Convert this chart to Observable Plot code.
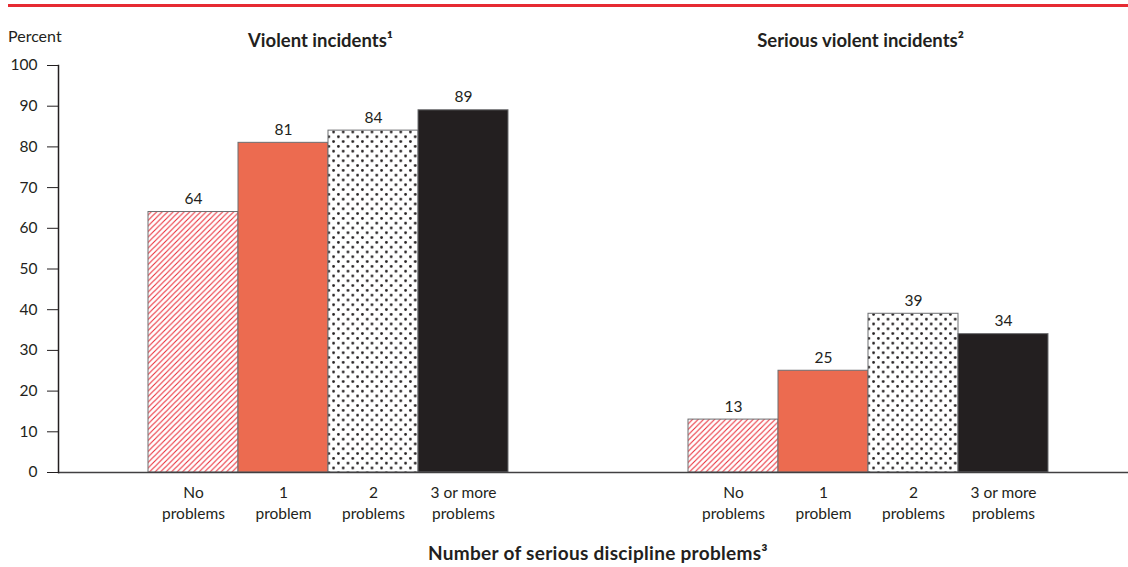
<!DOCTYPE html>
<html>
<head>
<meta charset="utf-8">
<script src="https://cdn.jsdelivr.net/npm/d3@7"></script>
<script src="https://cdn.jsdelivr.net/npm/@observablehq/plot@0.6"></script>
<style>
  html, body { margin: 0; padding: 0; background: #fff; }
  #wrap { position: relative; width: 1128px; height: 567px; font-family: Lato, sans-serif; color: #231f20; }
  #rule { position: absolute; top: 4px; left: 8px; right: 0; height: 3px; background: #e62a32; }
  #ylabel { position: absolute; left: 8px; top: 27px; font-size: 16px; line-height: 18px; }
  #caption { position: absolute; left: 58px; width: 1080px; top: 543px; text-align: center; font-size: 19px; font-weight: bold; letter-spacing: 0.3px; line-height: 20px; }
  #chart { position: absolute; left: 0; top: 0; }
</style>
</head>
<body>
<div id="wrap">
  <div id="rule"></div>
  <div id="chart"></div>
  <div id="ylabel">Percent</div>
  <div id="caption">Number of serious discipline problems³</div>
</div>
<script>
// Share of schools reporting incidents, by number of serious discipline problems
const panels = ["Violent incidents¹", "Serious violent incidents²"];
const categories = ["No\nproblems", "1\nproblem", "2\nproblems", "3 or more\nproblems"];
const violent = [64, 81, 84, 89];
const seriousViolent = [13, 25, 39, 34];
const yTicks = [0, 10, 20, 30, 40, 50, 60, 70, 80, 90, 100];

const rows = [
  ...categories.map((category, i) => ({panel: panels[0], category, value: violent[i]})),
  ...categories.map((category, i) => ({panel: panels[1], category, value: seriousViolent[i]}))
];

const ink = "#231f20";
const hatchRed = "#ea2d38";

const chart = Plot.plot({
  width: 1128,
  height: 540,
  marginTop: 65,
  marginBottom: 68,
  marginLeft: 58,
  marginRight: 0,
  style: {fontFamily: "Lato, sans-serif", fontSize: "15px", color: ink, background: "transparent"},
  fx: {domain: panels, paddingInner: 10 / 540, paddingOuter: 0, round: false, label: null},
  x: {domain: categories, paddingInner: 0, paddingOuter: 170 / 180, align: 90 / 170, round: false, label: null},
  y: {domain: [0, 100], label: null},
  color: {domain: categories, range: ["url(#hatch)", "#ec6b50", "url(#dots)", ink]},
  marks: [
    Plot.barY(rows, {fx: "panel", x: "category", y: "value", fill: "category", stroke: "#6d6e71", strokeWidth: 1}),
    Plot.text(rows, {fx: "panel", x: "category", y: "value", text: d => String(d.value), dy: -8, lineAnchor: "bottom", fontSize: 15.5, fill: ink}),
    Plot.ruleY([0], {stroke: "#414042", strokeWidth: 1.5, insetRight: -10}),
    Plot.frame({anchor: "left", facetAnchor: "left", stroke: ink, strokeWidth: 1.5}),
    Plot.axisY({ticks: yTicks, tickSize: 11, tickPadding: 10, label: null, stroke: ink, fontSize: 15.5}),
    Plot.axisX({tickSize: 0, tickPadding: 11, lineHeight: 1.35, label: null, fontSize: 15.5}),
    Plot.axisFx({anchor: "top", tickSize: 0, tickPadding: 19, label: null, fontSize: 18.5, fontWeight: "bold", dx: -3})
  ]
});

// Fill patterns referenced by the colour scale
const defs = d3.select(chart).insert("defs", ":first-child");
const hatch = defs.append("pattern")
  .attr("id", "hatch").attr("patternUnits", "userSpaceOnUse")
  .attr("width", 5.5).attr("height", 5.5);
hatch.append("rect").attr("width", 5.5).attr("height", 5.5).attr("fill", "#fff");
hatch.append("path").attr("d", "M-1,1L1,-1M0,5.5L5.5,0M4.5,6.5L6.5,4.5")
  .attr("fill", "none")
  .style("stroke", hatchRed).style("stroke-width", "1.1px");
const dots = defs.append("pattern")
  .attr("id", "dots").attr("patternUnits", "userSpaceOnUse")
  .attr("width", 9.6).attr("height", 9.6);
dots.append("rect").attr("width", 9.6).attr("height", 9.6).attr("fill", "#fff");
dots.append("circle").attr("cx", 2.4).attr("cy", 2.4).attr("r", 1.4).attr("fill", ink);
dots.append("circle").attr("cx", 7.2).attr("cy", 7.2).attr("r", 1.4).attr("fill", ink);

document.getElementById("chart").append(chart);
</script>
</body>
</html>
